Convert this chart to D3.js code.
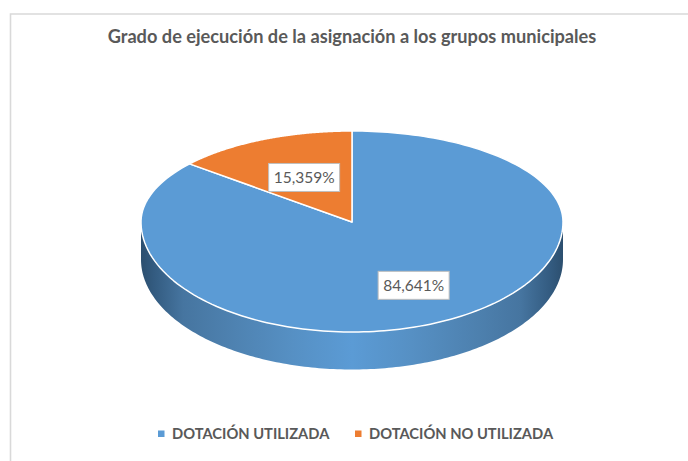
<!DOCTYPE html>
<html>
<head>
<meta charset="utf-8">
<script src="https://cdn.jsdelivr.net/npm/d3@7"></script>
<style>
  body { margin: 0; background: #fff; }
  text { font-family: Lato, "Open Sans", sans-serif; }
</style>
</head>
<body>
<div id="chart"></div>
<script>
var categories = ["DOTACIÓN UTILIZADA", "DOTACIÓN NO UTILIZADA"];
var values = [84.641, 15.359];
var labels = ["84,641%", "15,359%"];
var colors = ["#5B9BD5", "#ED7D31"];
var chartTitle = "Grado de ejecución de la asignación a los grupos municipales";

var svgWidth = 688;
var svgHeight = 461;

var svg = d3.select("#chart")
    .append("svg")
    .attr("width", svgWidth)
    .attr("height", svgHeight)
    .style("display", "block");

// chart frame, only left and top are visible in the crop
svg.append("path")
    .attr("d", `M10.5,${svgHeight} V14 H${svgWidth}`)
    .attr("fill", "none")
    .attr("stroke", "#d9d9d9")
    .attr("stroke-width", 1.6);

svg.append("text")
    .attr("x", 352)
    .attr("y", 42.5)
    .attr("text-anchor", "middle")
    .attr("font-size", 18.2)
    .attr("font-weight", "bold")
    .attr("fill", "#595959")
    .text(chartTitle);

// tilted pie, the far half of the disc is flatter than the near half
var cx = 352, cy = 222;
var rx = 211, ryFar = 91, ryNear = 110;
var depth = 37.5;
var warp = 5.3 * Math.PI / 180;

function project(angle, r) {
    var u = r * Math.sin(angle);
    var v = -r * Math.cos(angle);
    return [cx + rx * u, cy + (v < 0 ? ryFar : ryNear) * v];
}

// slice boundaries squeeze toward the back of the disc
function rimPoint(angle) {
    return project(angle - warp * Math.sin(2 * angle), 1);
}

var pie = d3.pie().sort(null).value(d => d);
var arcs = pie(values);

var line = d3.line();

function edge(start, stop) {
    return d3.range(0, 181).map(i => rimPoint(start + (stop - start) * i / 180));
}

// side wall gradient
var defs = svg.append("defs");
var grad = defs.append("linearGradient")
    .attr("id", "side")
    .attr("gradientUnits", "userSpaceOnUse")
    .attr("x1", cx - rx)
    .attr("x2", cx + rx)
    .attr("y1", 0)
    .attr("y2", 0);

[[0, "#2c4f6f"], [0.03, "#335b80"], [0.1, "#4675a0"], [0.2, "#4d80ae"], [0.36, "#5690c4"], [0.5, "#5b9bd5"],
 [0.64, "#5690c4"], [0.8, "#4d80ae"], [0.9, "#4675a0"], [0.97, "#335b80"], [1, "#2c4f6f"]].forEach(function (s) {
    grad.append("stop").attr("offset", s[0]).attr("stop-color", s[1]);
});

// lower half of the rim, pushed down by the depth
var lower = d3.range(90, 271).map(d => project(d * Math.PI / 180, 1));
var sidePts = lower.concat(lower.slice().reverse().map(d => [d[0], d[1] + depth]));

svg.append("path")
    .attr("d", line(sidePts) + "Z")
    .attr("fill", "url(#side)");

svg.selectAll(".slice")
    .data(arcs)
    .enter()
    .append("path")
    .attr("class", "slice")
    .attr("d", d => line([[cx, cy]].concat(edge(d.startAngle, d.endAngle))) + "Z")
    .attr("fill", (d, i) => colors[i])
    .attr("stroke", "#fff")
    .attr("stroke-width", 1.5)
    .attr("stroke-linejoin", "round");

// data labels, best fit placement is not exactly on the mid angle
var labelRadius = [0.65, 0.54];
var labelNudge = [[-2, 0], [5, -1]];
var labelGroup = svg.selectAll(".label")
    .data(arcs)
    .enter()
    .append("g")
    .attr("class", "label")
    .attr("transform", function (d, i) {
        var pos = project((d.startAngle + d.endAngle) / 2, labelRadius[i]);
        return `translate(${pos[0] + labelNudge[i][0]}, ${pos[1] + labelNudge[i][1]})`;
    });

labelGroup.append("rect")
    .attr("x", -35.5)
    .attr("y", -14)
    .attr("width", 71)
    .attr("height", 28)
    .attr("fill", "#fff")
    .attr("stroke", "#bfbfbf")
    .attr("stroke-width", 1);

labelGroup.append("text")
    .attr("text-anchor", "middle")
    .attr("y", 5.5)
    .attr("font-size", 15.5)
    .attr("fill", "#595959")
    .text((d, i) => labels[i]);

// legend
var legendX = d3.scaleOrdinal().domain(categories).range([158, 355]);

var legend = svg.selectAll(".legend")
    .data(categories)
    .enter()
    .append("g")
    .attr("class", "legend")
    .attr("transform", d => `translate(${legendX(d)}, 434)`);

legend.append("rect")
    .attr("x", 0)
    .attr("y", -3.5)
    .attr("width", 6.5)
    .attr("height", 6.5)
    .attr("fill", (d, i) => colors[i]);

legend.append("text")
    .attr("x", 14)
    .attr("y", 5)
    .attr("font-size", 14.7)
    .attr("font-weight", "bold")
    .attr("fill", "#595959")
    .text(d => d);
</script>
</body>
</html>
